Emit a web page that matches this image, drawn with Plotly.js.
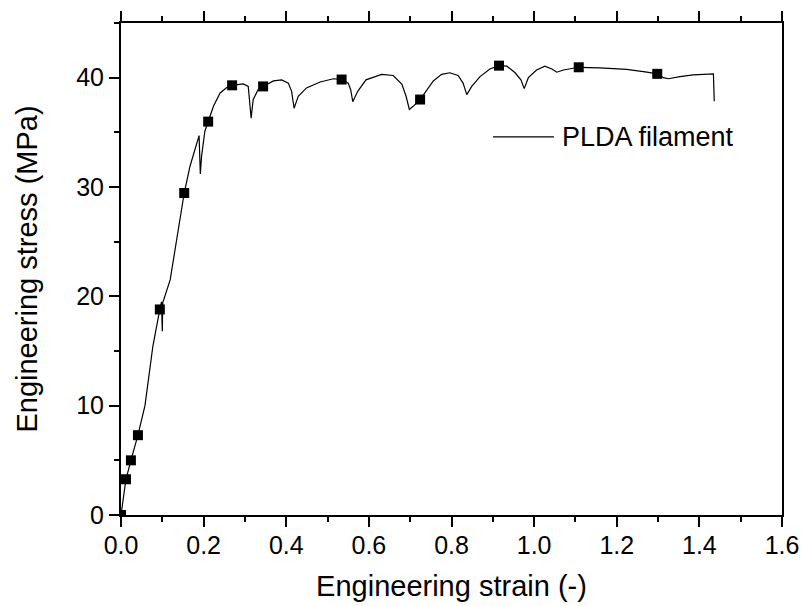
<!DOCTYPE html>
<html>
<head>
<meta charset="utf-8">
<script src="https://cdn.plot.ly/plotly-3.0.1.min.js"></script>
<style>html,body{margin:0;padding:0;background:#fff;}#chart{width:803px;height:606px;}</style>
</head>
<body>
<div id="chart"></div>
<script>
// Stress-strain curve (line)
const strain = [0, 0.012, 0.024, 0.041, 0.058, 0.077, 0.094, 0.098, 0.100, 0.101, 0.119, 0.153, 0.167, 0.178, 0.189, 0.192, 0.195, 0.203, 0.211, 0.224, 0.240, 0.256, 0.269, 0.296, 0.308, 0.315, 0.320, 0.332, 0.344, 0.369, 0.389, 0.405, 0.413, 0.419, 0.429, 0.449, 0.482, 0.514, 0.534, 0.550, 0.556, 0.561, 0.573, 0.593, 0.631, 0.659, 0.680, 0.690, 0.698, 0.708, 0.724, 0.740, 0.756, 0.776, 0.796, 0.816, 0.828, 0.837, 0.849, 0.869, 0.893, 0.915, 0.934, 0.954, 0.968, 0.976, 0.986, 1.006, 1.026, 1.043, 1.055, 1.071, 1.108, 1.159, 1.224, 1.273, 1.298, 1.313, 1.325, 1.353, 1.385, 1.434, 1.436];
const stress = [0, 3.27, 5.0, 7.3, 10.0, 15.4, 18.8, 19.5, 16.8, 19.4, 21.5, 29.45, 31.9, 33.4, 34.7, 31.2, 32.8, 35.1, 35.98, 37.4, 38.6, 39.1, 39.3, 39.43, 39.2, 36.3, 38.0, 38.9, 39.2, 39.7, 39.8, 39.5, 38.75, 37.2, 38.3, 39.06, 39.6, 39.9, 39.83, 39.5, 38.9, 37.8, 38.75, 39.8, 40.3, 40.2, 39.4, 38.3, 37.1, 37.4, 38.0, 38.9, 39.7, 40.3, 40.45, 40.2, 39.5, 38.45, 39.2, 40.1, 40.8, 41.1, 41.05, 40.45, 39.8, 39.0, 40.0, 40.7, 41.05, 40.8, 40.5, 40.7, 40.95, 40.9, 40.75, 40.5, 40.35, 40.0, 39.9, 40.1, 40.25, 40.35, 37.85];
// Square symbols
const markStrain = [0, 0.012, 0.024, 0.041, 0.094, 0.153, 0.211, 0.269, 0.344, 0.534, 0.724, 0.915, 1.108, 1.298];
const markStress = [0, 3.27, 5.0, 7.3, 18.8, 29.45, 35.98, 39.3, 39.2, 39.83, 38.0, 41.1, 40.95, 40.35];
const seriesName = "PLDA filament";
const xTitle = "Engineering strain (-)";
const yTitle = "Engineering stress (MPa)";

const FONT = "Liberation Sans, Arial, sans-serif";

const traces = [
  {x: strain, y: stress, mode: "lines", name: seriesName, line: {color: "#000", width: 1.2}, showlegend: false},
  {x: markStrain, y: markStress, mode: "markers", marker: {symbol: "square", size: 10, color: "#000"}, showlegend: false, hoverinfo: "skip"}
];

const layout = {
  width: 803, height: 606,
  margin: {l: 121, r: 21, t: 23, b: 91},
  paper_bgcolor: "#fff", plot_bgcolor: "#fff",
  font: {family: FONT, color: "#000"},
  xaxis: {
    range: [0, 1.6], dtick: 0.2, tick0: 0, tickformat: ".1f",
    showgrid: false, zeroline: false,
    showline: true, linecolor: "#000", linewidth: 2, mirror: "ticks",
    ticks: "outside", ticklen: 10, tickwidth: 2, tickcolor: "#000",
    ticklabelstandoff: -3,
    minor: {dtick: 0.1, ticks: "outside", ticklen: 5, tickwidth: 2, tickcolor: "#000", showgrid: false},
    tickfont: {size: 25, family: FONT, color: "#000"},
    title: {text: xTitle, font: {size: 29, family: FONT, color: "#000"}, standoff: 18},
    automargin: false
  },
  yaxis: {
    range: [0, 45], dtick: 10, tick0: 0,
    showgrid: false, zeroline: false,
    showline: true, linecolor: "#000", linewidth: 2, mirror: true,
    ticks: "outside", ticklen: 10, tickwidth: 2, tickcolor: "#000",
    minor: {dtick: 5, ticks: "outside", ticklen: 5, tickwidth: 2, tickcolor: "#000", showgrid: false},
    tickfont: {size: 25, family: FONT, color: "#000"},
    title: {text: yTitle, font: {size: 29, family: FONT, color: "#000"}, standoff: 30},
    automargin: false
  },
  shapes: [
    {type: "line", xref: "paper", yref: "paper", x0: 0.5628, x1: 0.655, y0: 0.7686, y1: 0.7686, line: {color: "#000", width: 1.2}}
  ],
  annotations: [
    {xref: "paper", yref: "paper", x: 0.6641, y: 0.7686, xanchor: "left", yanchor: "middle", text: seriesName, showarrow: false, font: {size: 27, family: FONT, color: "#000"}}
  ]
};

Plotly.newPlot("chart", traces, layout, {displayModeBar: false, staticPlot: true});
</script>
</body>
</html>
